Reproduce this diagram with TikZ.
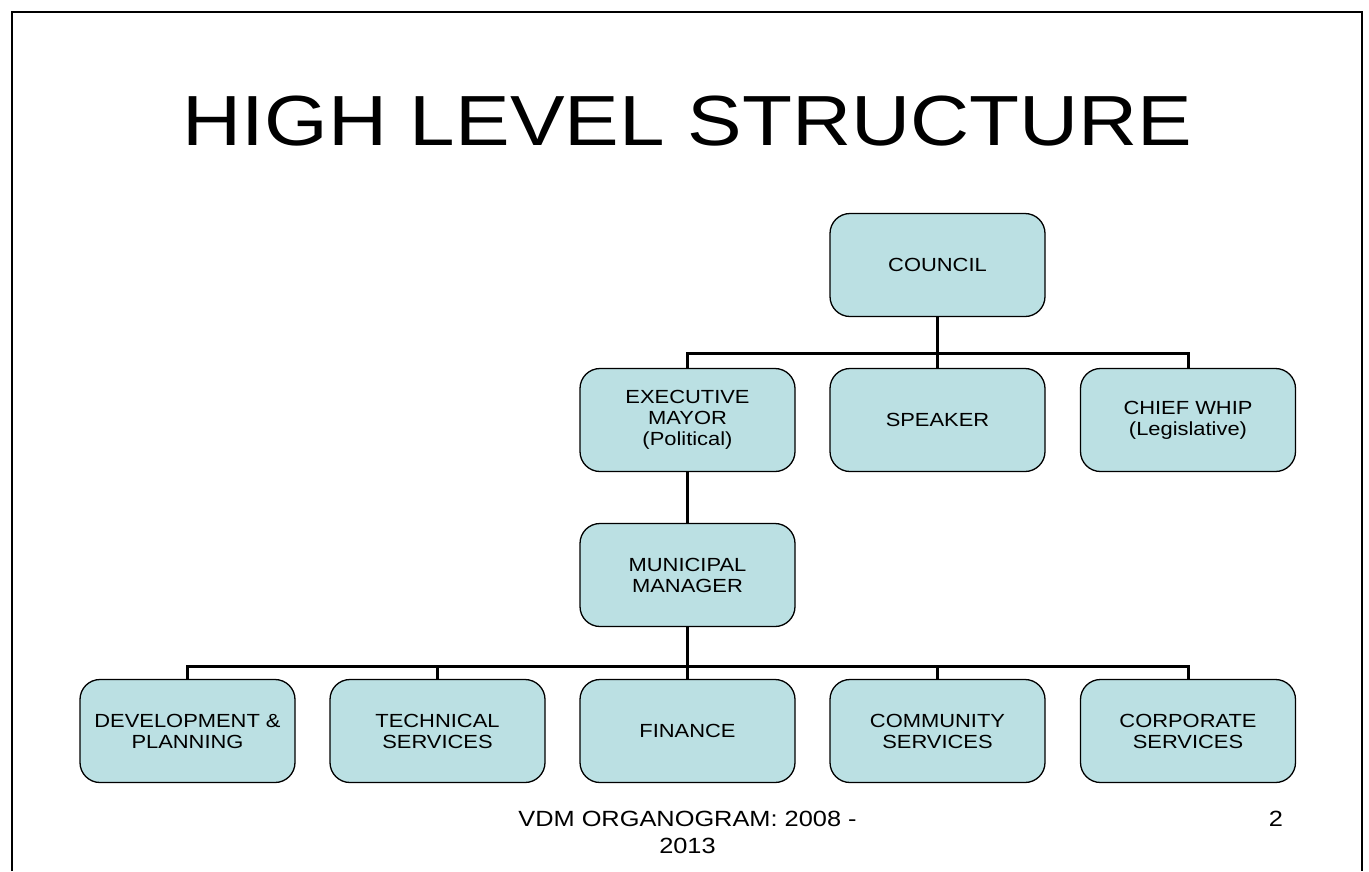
\documentclass[tikz,border=0pt]{standalone}
\usepackage{fontspec}
\setmainfont[FakeStretch=1.153]{Liberation Sans}
\definecolor{boxfill}{HTML}{BBE0E3}
\begin{document}
\begin{tikzpicture}[x=1pt,y=-1pt,
  orgbox/.style={draw=black, line width=1.3pt, fill=boxfill, rounded corners=20pt,
    minimum width=215pt, minimum height=103pt, align=center, inner sep=0pt,
    font=\fontsize{19}{21}\selectfont},
  link/.style={line width=3pt, line cap=rect}]
\useasboundingbox (0,0) rectangle (1369,871);
\fill[white] (0,0) rectangle (1369,871);
\draw[line width=2pt] (12,871) -- (12,12) -- (1362,12) -- (1362,871);

\node[anchor=base, font=\fontsize{71}{80}\selectfont] (title) at (687.5,145) {HIGH LEVEL STRUCTURE};

\node[orgbox] (council) at (937.5,265) {COUNCIL};
\node[orgbox] (mayor) at (687.5,420) {EXECUTIVE\\MAYOR\\(Political)};
\node[orgbox] (speaker) at (937.5,420) {SPEAKER};
\node[orgbox] (whip) at (1188,420) {CHIEF WHIP\\(Legislative)};
\node[orgbox] (mm) at (687.5,575) {MUNICIPAL\\MANAGER};
\node[orgbox] (dev) at (187.5,731) {DEVELOPMENT \&\\PLANNING};
\node[orgbox] (tech) at (437.5,731) {TECHNICAL\\SERVICES};
\node[orgbox] (fin) at (687.5,731) {FINANCE};
\node[orgbox] (comm) at (937.5,731) {COMMUNITY\\SERVICES};
\node[orgbox] (corp) at (1188,731) {CORPORATE\\SERVICES};

\coordinate (bus1) at (937.5,353);
\coordinate (bus2) at (687.5,666);

\draw[link] (council.south) -- (bus1);
\draw[link] (mayor.north) |- (bus1) -| (whip.north);
\draw[link] (speaker.north) -- (bus1);
\draw[link] (mayor.south) -- (mm.north);
\draw[link] (mm.south) -- (bus2);
\draw[link] (dev.north) |- (bus2) -| (corp.north);
\draw[link] (tech.north) -- (tech.north |- bus2);
\draw[link] (fin.north) -- (bus2);
\draw[link] (comm.north) -- (comm.north |- bus2);

\node[anchor=base, align=center, font=\fontsize{22}{26.3}\selectfont] (footer) at (687.5,853) {VDM ORGANOGRAM: 2008 -\\2013};
\node[anchor=base, font=\fontsize{22}{26}\selectfont] (page) at (1276,826.7) {2};
\end{tikzpicture}
\end{document}
